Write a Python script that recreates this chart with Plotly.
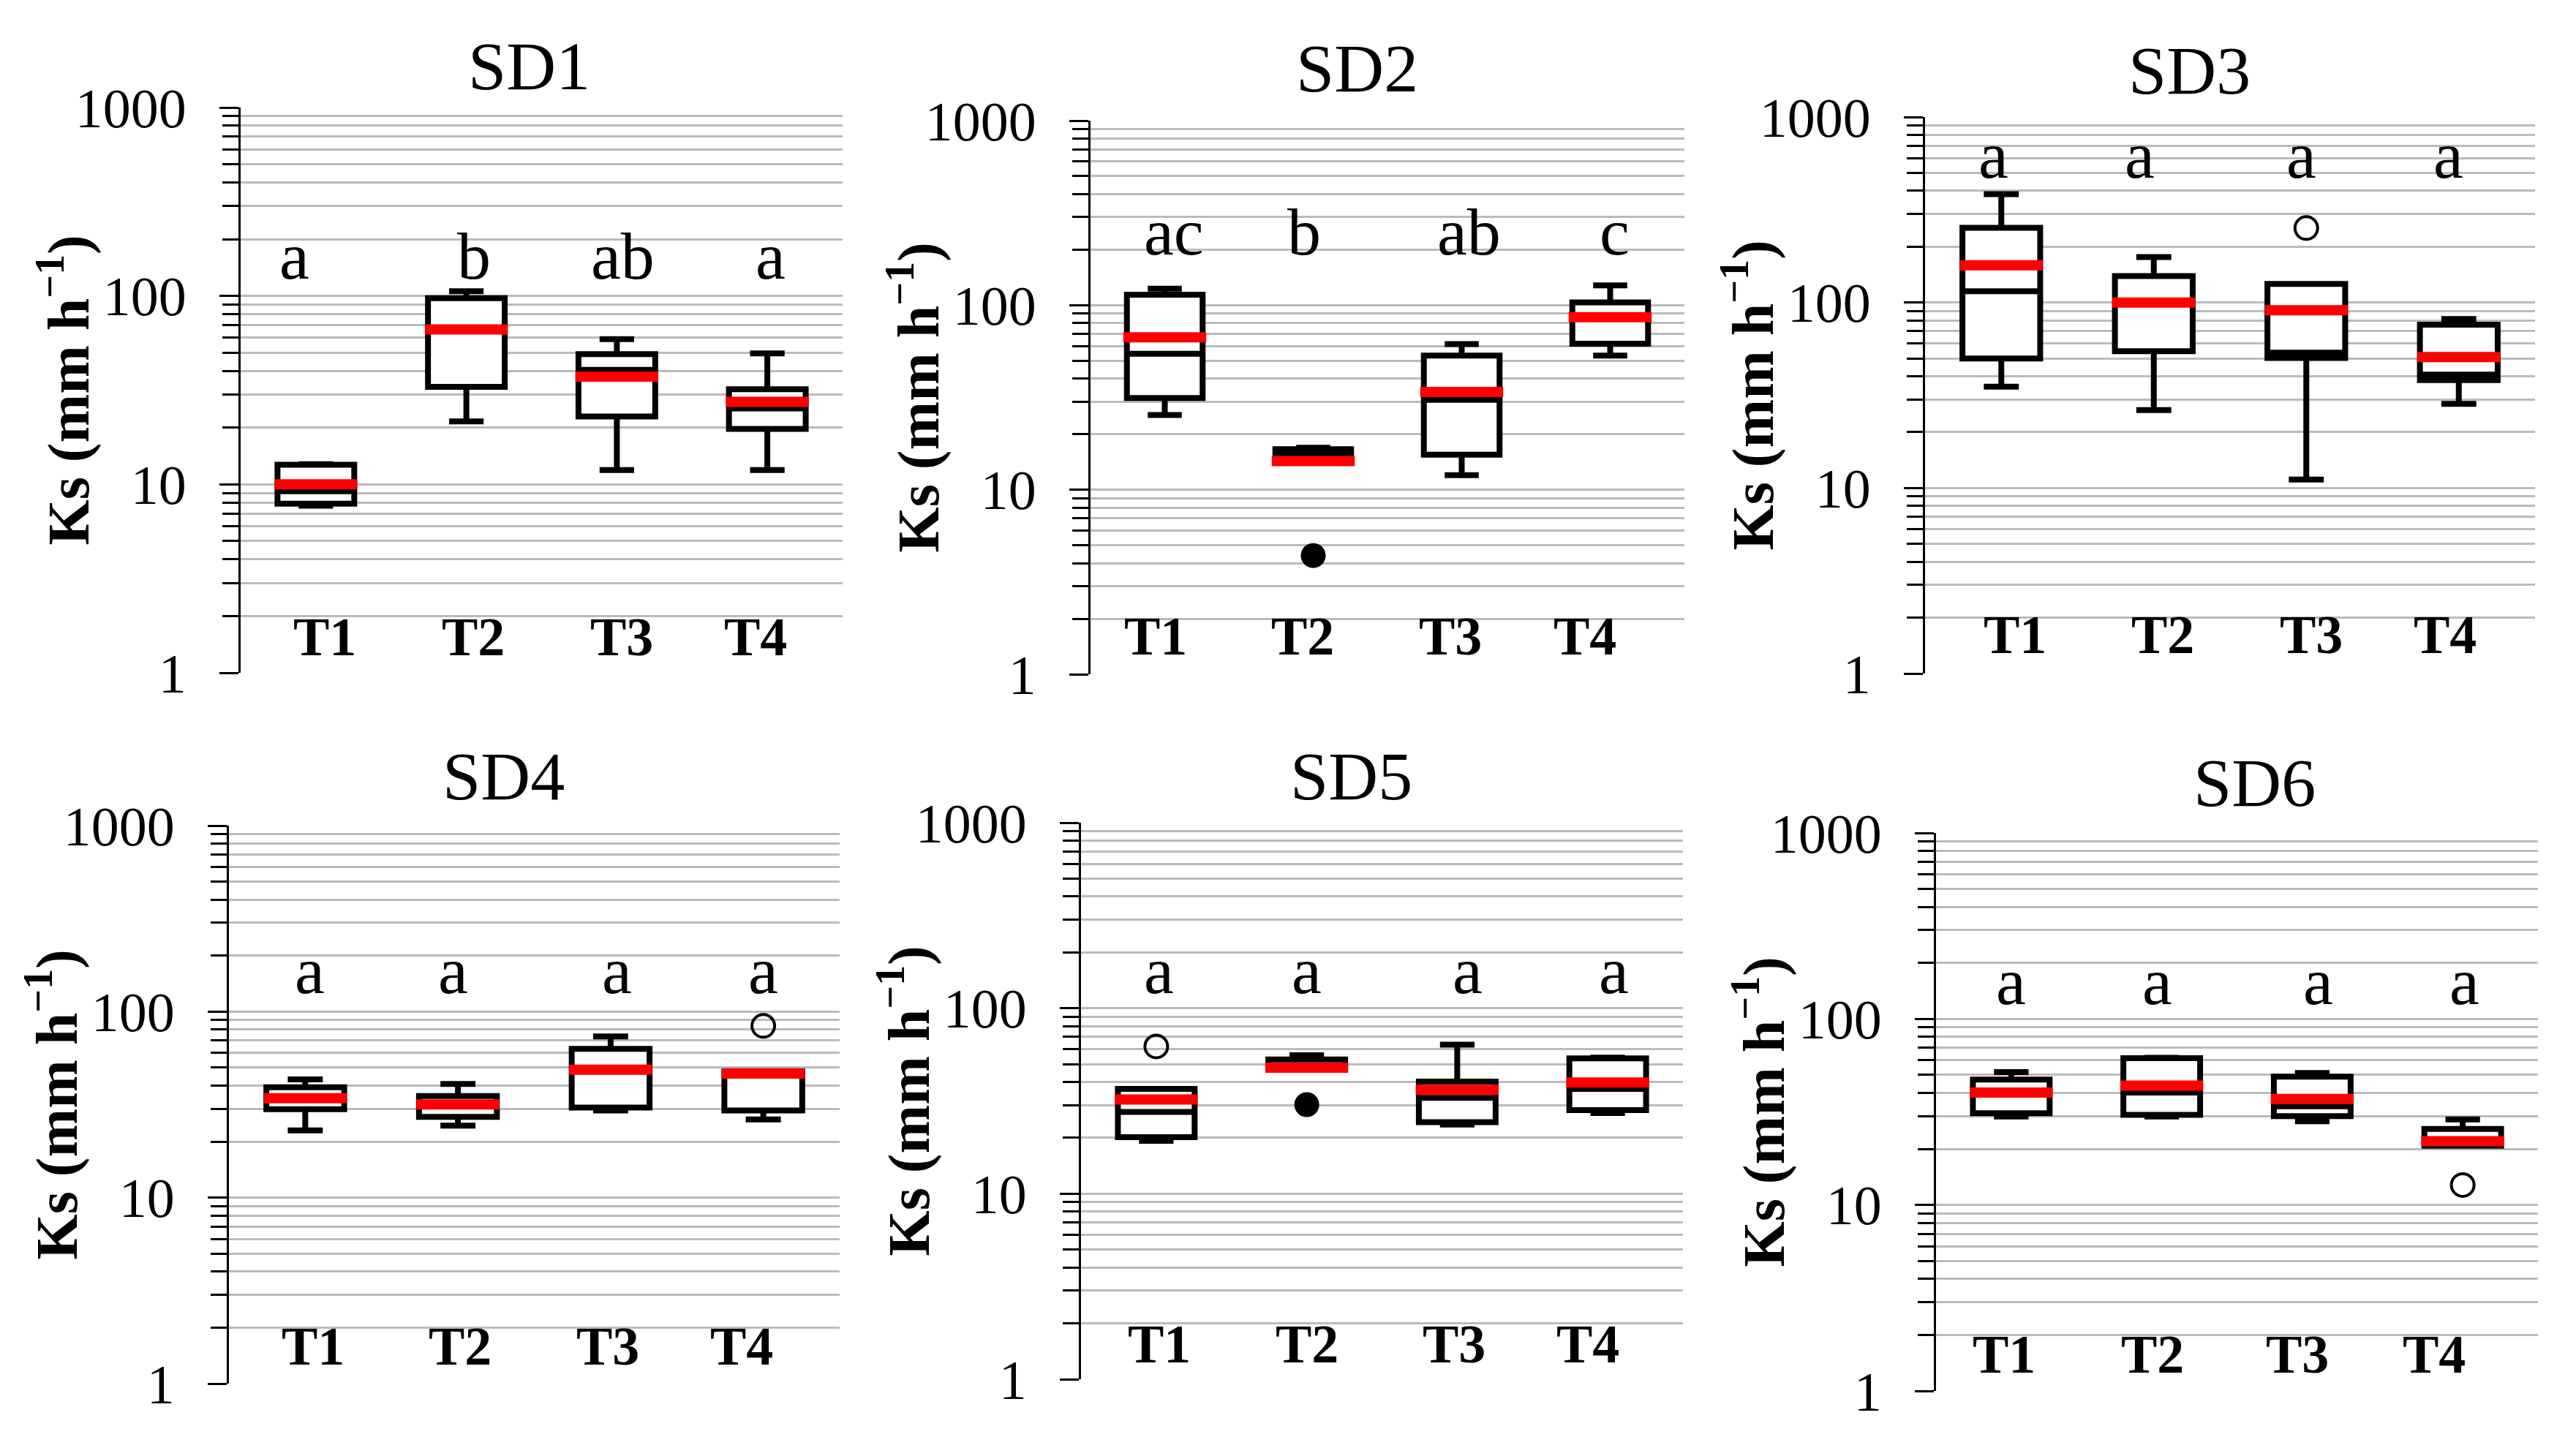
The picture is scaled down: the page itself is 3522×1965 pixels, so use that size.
import plotly.graph_objects as go

W, H = 3522, 1965

cats = ["T1", "T2", "T3", "T4"]
panels = ["SD1", "SD2", "SD3", "SD4", "SD5", "SD6"]

# ---- data (Ks, mm h-1) ----
sd1_lower = [7.7, 21.6, 11.9, 11.9]
sd1_q1 = [7.9, 32.9, 22.9, 19.7]
sd1_median = [9.2, 66.4, 40.5, 25.3]
sd1_q3 = [12.7, 97.2, 49.1, 32.0]
sd1_upper = [12.8, 105.8, 59.0, 49.6]
sd1_mean = [10.0, 66.4, 37.3, 27.4]
sd1_letters = ["a", "b", "ab", "a"]

sd2_lower = [25.4, 14.8, 12.0, 53.3]
sd2_q1 = [31.4, 14.8, 15.5, 61.8]
sd2_median = [54.5, 15.5, 30.7, 86.0]
sd2_q3 = [114.0, 16.6, 53.3, 103.5]
sd2_upper = [123.0, 16.9, 61.5, 128.0]
sd2_mean = [67.0, 14.3, 33.9, 86.0]
sd2_letters = ["ac", "b", "ab", "c"]
sd2_filled_x = ["T2"]
sd2_filled_y = [4.4]

sd3_lower = [35.2, 26.3, 11.1, 28.4]
sd3_q1 = [49.9, 54.7, 50.2, 38.2]
sd3_median = [115.0, 100.0, 53.7, 40.9]
sd3_q3 = [253.0, 139.0, 126.0, 76.0]
sd3_upper = [384.0, 176.0, 126.0, 81.5]
sd3_mean = [158.6, 100.0, 90.8, 50.8]
sd3_letters = ["a", "a", "a", "a"]
sd3_open_x = ["T3"]
sd3_open_y = [252.0]

sd4_lower = [23.0, 24.4, 29.4, 26.3]
sd4_q1 = [29.9, 27.2, 30.5, 29.4]
sd4_median = [34.2, 31.7, 48.7, 47.9]
sd4_q3 = [39.2, 35.2, 63.0, 47.9]
sd4_upper = [43.2, 40.8, 73.5, 47.9]
sd4_mean = [34.2, 31.7, 48.7, 46.5]
sd4_letters = ["a", "a", "a", "a"]
sd4_open_x = ["T4"]
sd4_open_y = [83.8]

sd5_lower = [19.3, 47.8, 23.6, 27.2]
sd5_q1 = [20.2, 47.8, 24.3, 28.2]
sd5_median = [27.6, 48.6, 32.9, 36.7]
sd5_q3 = [36.7, 52.9, 40.2, 53.7]
sd5_upper = [36.7, 55.8, 63.6, 54.2]
sd5_mean = [32.2, 47.8, 36.3, 39.8]
sd5_letters = ["a", "a", "a", "a"]
sd5_open_x = ["T1"]
sd5_open_y = [62.2]
sd5_filled_x = ["T2"]
sd5_filled_y = [30.2]

sd6_lower = [29.9, 29.9, 28.2, 20.8]
sd6_q1 = [31.1, 30.5, 30.0, 20.8]
sd6_median = [40.2, 40.2, 33.9, 20.9]
sd6_q3 = [47.2, 61.5, 48.9, 25.6]
sd6_upper = [51.8, 61.8, 51.2, 28.8]
sd6_mean = [40.2, 43.8, 37.1, 22.0]
sd6_letters = ["a", "a", "a", "a"]
sd6_open_x = ["T4"]
sd6_open_y = [12.8]

data = {
    "SD1": dict(lower=sd1_lower, q1=sd1_q1, median=sd1_median, q3=sd1_q3, upper=sd1_upper,
                mean=sd1_mean, letters=sd1_letters, open=([], []), filled=([], [])),
    "SD2": dict(lower=sd2_lower, q1=sd2_q1, median=sd2_median, q3=sd2_q3, upper=sd2_upper,
                mean=sd2_mean, letters=sd2_letters, open=([], []), filled=(sd2_filled_x, sd2_filled_y)),
    "SD3": dict(lower=sd3_lower, q1=sd3_q1, median=sd3_median, q3=sd3_q3, upper=sd3_upper,
                mean=sd3_mean, letters=sd3_letters, open=(sd3_open_x, sd3_open_y), filled=([], [])),
    "SD4": dict(lower=sd4_lower, q1=sd4_q1, median=sd4_median, q3=sd4_q3, upper=sd4_upper,
                mean=sd4_mean, letters=sd4_letters, open=(sd4_open_x, sd4_open_y), filled=([], [])),
    "SD5": dict(lower=sd5_lower, q1=sd5_q1, median=sd5_median, q3=sd5_q3, upper=sd5_upper,
                mean=sd5_mean, letters=sd5_letters, open=(sd5_open_x, sd5_open_y), filled=(sd5_filled_x, sd5_filled_y)),
    "SD6": dict(lower=sd6_lower, q1=sd6_q1, median=sd6_median, q3=sd6_q3, upper=sd6_upper,
                mean=sd6_mean, letters=sd6_letters, open=(sd6_open_x, sd6_open_y), filled=([], [])),
}

# ---- layout (pixel positions) ----
dom_px = {  # left, right, top, bottom
    "SD1": (329, 1152, 147, 920),
    "SD2": (1491, 2303, 165, 922),
    "SD3": (2632, 3466, 160, 921),
    "SD4": (313, 1148, 1129, 1892),
    "SD5": (1478, 2301, 1125, 1886),
    "SD6": (2647, 3470, 1139, 1902),
}
title_px = {
    "SD1": (723, 90), "SD2": (1855, 93), "SD3": (2993, 96),
    "SD4": (688, 1061), "SD5": (1847, 1061), "SD6": (3082, 1070),
}
letter_logy = {"SD1": 2.214, "SD2": 2.397, "SD3": 2.796, "SD4": 2.222, "SD5": 2.203, "SD6": 2.203}
tlabel_logy = {"SD1": 0.19, "SD2": 0.205, "SD3": 0.207, "SD4": 0.20, "SD5": 0.19, "SD6": 0.198}
letter_dx = {
    "SD1": [-0.145, 0.05, 0.04, 0.02],
    "SD2": [0.06, -0.06, 0.05, 0.03],
    "SD3": [-0.05, -0.09, -0.03, -0.07],
    "SD4": [0.03, -0.03, 0.04, 0.0],
    "SD5": [0.02, 0.0, 0.07, 0.04],
    "SD6": [0.0, -0.03, 0.04, 0.01],
}
tlabel_dx = {
    "SD1": [0.06, 0.045, 0.03, -0.077],
    "SD2": [-0.06, -0.07, -0.075, -0.17],
    "SD3": [0.09, 0.06, 0.03, -0.09],
    "SD4": [0.05, 0.015, -0.02, -0.14],
    "SD5": [0.02, 0.0, -0.02, -0.13],
    "SD6": [-0.05, -0.06, -0.1, -0.19],
}

SERIF = "Liberation Serif"
GRID = "#BBBBBB"

fig = go.Figure()
annotations = []
layout_axes = {}

for i, p in enumerate(panels):
    n = i + 1
    xa = "x" if n == 1 else f"x{n}"
    ya = "y" if n == 1 else f"y{n}"
    d = data[p]

    fig.add_trace(go.Box(
        x=cats, q1=d["q1"], median=d["median"], q3=d["q3"],
        lowerfence=d["lower"], upperfence=d["upper"],
        xaxis=xa, yaxis=ya, width=0.51, whiskerwidth=0.45,
        fillcolor="white", line=dict(color="black", width=8),
        boxpoints=False, showlegend=False, hoverinfo="skip",
    ))
    fig.add_trace(go.Scatter(
        x=cats, y=d["mean"], mode="markers", xaxis=xa, yaxis=ya,
        marker=dict(symbol="line-ew", size=81, color="red", line=dict(color="red", width=14)),
        showlegend=False, hoverinfo="skip",
    ))
    ox, oy = d["open"]
    if ox:
        fig.add_trace(go.Scatter(
            x=ox, y=oy, mode="markers", xaxis=xa, yaxis=ya,
            marker=dict(symbol="circle-open", size=31, color="black", line=dict(color="black", width=4)),
            showlegend=False, hoverinfo="skip",
        ))
    fx, fy = d["filled"]
    if fx:
        fig.add_trace(go.Scatter(
            x=fx, y=fy, mode="markers", xaxis=xa, yaxis=ya,
            marker=dict(symbol="circle", size=34, color="black"),
            showlegend=False, hoverinfo="skip",
        ))

    l, r, t, b = dom_px[p]
    xkey = "xaxis" if n == 1 else f"xaxis{n}"
    ykey = "yaxis" if n == 1 else f"yaxis{n}"
    layout_axes[xkey] = dict(
        domain=[l / W, r / W], anchor=ya, type="category",
        categoryorder="array", categoryarray=cats, range=[-0.5, 3.5],
        showticklabels=False, ticks="", showgrid=False, showline=False,
        zeroline=False, fixedrange=True, automargin=False,
    )
    layout_axes[ykey] = dict(
        domain=[1 - b / H, 1 - t / H], anchor=xa, type="log", range=[0, 3],
        tick0=0, dtick=1, exponentformat="none",
        showline=True, linecolor="black", linewidth=3,
        ticks="outside", ticklen=26, tickwidth=3, tickcolor="black",
        showgrid=True, gridcolor=GRID, gridwidth=3,
        minor=dict(dtick="D1", ticks="outside", ticklen=22, tickwidth=3, tickcolor="black",
                   showgrid=True, gridcolor=GRID, gridwidth=3),
        tickfont=dict(family=SERIF, size=76, color="black"),
        ticklabelstandoff=30, zeroline=False, fixedrange=True, automargin=False,
    )

    # panel title
    tx, ty = title_px[p]
    annotations.append(dict(
        text=p, x=tx / W, y=1 - ty / H, xref="paper", yref="paper",
        xanchor="center", yanchor="middle", showarrow=False,
        font=dict(family=SERIF, size=94, color="black"),
    ))
    # y-axis title
    annotations.append(dict(
        text="<b>Ks (mm h<sup>−1</sup>)</b>", x=0, xshift=-241, y=0.5,
        xref=f"{xa} domain", yref=f"{ya} domain", textangle=-90,
        xanchor="center", yanchor="middle", showarrow=False,
        font=dict(family=SERIF, size=80, color="black"),
    ))
    for k, c in enumerate(cats):
        annotations.append(dict(
            text=d["letters"][k], x=k + letter_dx[p][k], y=letter_logy[p],
            xref=xa, yref=ya, xanchor="center", yanchor="middle", showarrow=False,
            font=dict(family=SERIF, size=92, color="black"),
        ))
        annotations.append(dict(
            text=f"<b>{c}</b>", x=k + tlabel_dx[p][k], y=tlabel_logy[p],
            xref=xa, yref=ya, xanchor="center", yanchor="middle", showarrow=False,
            font=dict(family=SERIF, size=74, color="black"),
        ))

fig.update_layout(
    template="none", width=W, height=H,
    margin=dict(l=0, r=0, t=0, b=0),
    paper_bgcolor="white", plot_bgcolor="white",
    showlegend=False, annotations=annotations, **layout_axes,
)

fig.write_html(
    "out.html",
    config={"displayModeBar": False},
    post_script="document.body.style.margin='0';document.body.style.overflow='hidden';",
)
